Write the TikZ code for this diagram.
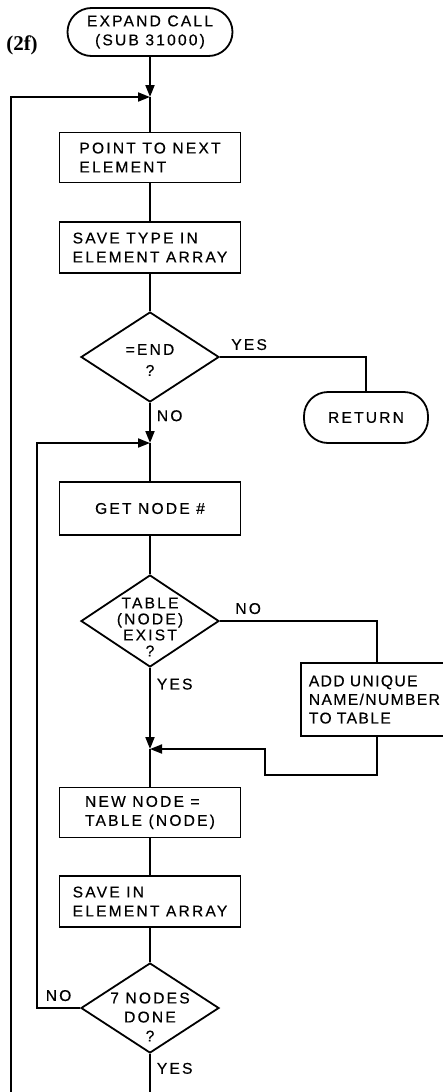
\documentclass[tikz,border=0pt]{standalone}
\usepackage{fontspec}
\usetikzlibrary{positioning,arrows.meta,shapes.geometric}
\newfontfamily\flowfont[LetterSpace=14,FakeBold=0.4]{Liberation Sans}
\newfontfamily\flowfontn[LetterSpace=9,FakeBold=0.4]{Liberation Sans}
\newfontfamily\tagfont{Liberation Serif}
\tikzset{
  fig/.style={font=\flowfont\fontsize{7.8}{9.5}\selectfont},
  box/.style={draw,line width=0.9pt,minimum width=90.5pt,minimum height=25pt,
              align=left,inner sep=2pt},
  term/.style={draw,line width=0.9pt,rounded corners=12pt,minimum height=24pt,
               align=center,inner sep=2pt},
  decision/.style={draw,line width=0.9pt,diamond,minimum width=69pt,
                   minimum height=45pt,inner sep=0pt},
  qtext/.style={align=center,inner sep=0pt},
  ln/.style={-{Triangle[length=6pt,width=4.5pt]},line width=0.9pt},
  wire/.style={line width=0.9pt},
  lbl/.style={inner sep=1pt},
}

\begin{document}
\begin{tikzpicture}[fig,x=0.5pt,y=-0.5pt]
\useasboundingbox (0,0) rectangle (443,1092);

\def\xs{150}

% ------------------------------------------------ 1: entry and element loop
\node[font=\tagfont\bfseries\fontsize{10.5}{12}\selectfont] (tag) at (22,45) {(2f)};
\node[term,minimum width=82.5pt] (expand) at (\xs,32) {EXPAND CALL\\(SUB 31000)};
\coordinate (j1) at (\xs,97);
\node[box] (point) at (\xs,157.5) {POINT TO NEXT\\ELEMENT};
\node[box,minimum height=25.5pt] (savetype) at (\xs,247.5) {SAVE TYPE IN\\ELEMENT ARRAY};
\node[decision,label={[qtext,yshift=-1.5pt]center:{=END\\[1pt]?}}] (endq) at (\xs,357) {};
\node[term,minimum width=62pt,minimum height=25.5pt] (ret) at (366,417.5) {RETURN};

% ------------------------------------------------ 2: node loop
\coordinate (j2) at (\xs,443);
\node[box,minimum height=26.5pt,align=center] (getnode) at (\xs,508.5) {GET NODE \#};
\node[decision,minimum height=46pt,
      label={[qtext,yshift=-3pt]center:{TABLE\\[-1.5pt](NODE)\\[-1.5pt]EXIST\\[-1.5pt]?}}]
  (tabq) at (\xs,621) {};
% box runs off the right edge of the figure
\node[box,anchor=west,minimum width=0pt,text width=68pt,inner xsep=4pt,minimum height=36.5pt,
      font=\flowfontn\fontsize{7.8}{9.3}\selectfont] (add) at (300,699.5)
  {ADD UNIQUE\\NAME/NUMBER\\TO TABLE};
\coordinate (j3) at (\xs,749);
\coordinate (a1) at (265,775);
\node[box] (newnode) at (\xs,812.5) {NEW NODE =\\TABLE (NODE)};
\node[box,minimum height=25.5pt] (savein) at (\xs,901.5) {SAVE IN\\ELEMENT ARRAY};
\node[decision,label={[qtext,yshift=-4.5pt]center:{7 NODES\\DONE\\?}}] (doneq) at (\xs,1008) {};
\coordinate (lp2) at (37,1008);
\coordinate (lp1) at (11,1092);
\coordinate (bot) at (\xs,1092);

% ------------------------------------------------ 3: connectors
\draw[ln] (expand) -- (j1);
\draw[ln] (lp1) |- (j1);
\foreach \a/\b in {j1/point,point/savetype,savetype/endq,j2/getnode,getnode/tabq,
                   j3/newnode,newnode/savein,savein/doneq}
  \draw[wire] (\a) -- (\b);

\draw[wire] (endq.east) -| (ret.north) node[lbl,pos=0.1,above=2pt] {YES};
\draw[ln] (endq.south) -- (j2) node[lbl,pos=0.32,right=2pt] {NO};
\draw[wire] (tabq.east) -| (add.north) node[lbl,pos=0.09,above=2pt] {NO};
\draw[ln] (tabq.south) -- (j3) node[lbl,pos=0.2,right=2pt] {YES};
\draw[ln] (add.south) |- (a1) |- (j3);
\draw[ln] (doneq.west) -- node[lbl,above=2pt] {NO} (lp2) |- (j2);
\draw[wire] (doneq.south) -- (bot) node[lbl,pos=0.38,right=2pt] {YES};

\end{tikzpicture}
\end{document}
